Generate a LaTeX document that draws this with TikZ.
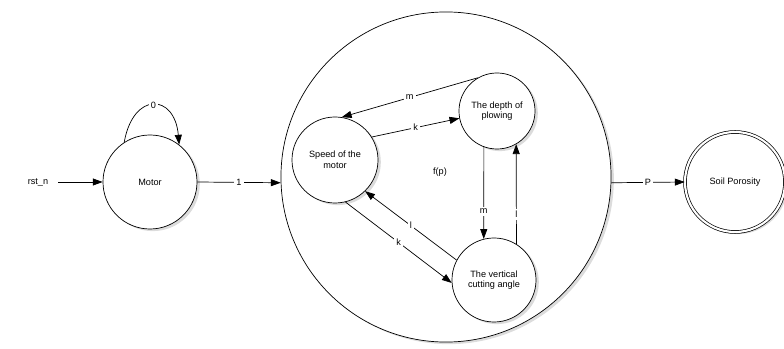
\documentclass[tikz,border=0pt]{standalone}
\usepackage{fontspec}
\setmainfont{Liberation Sans}
\usetikzlibrary{arrows.meta,shadows}

\begin{document}
\begin{tikzpicture}[
			x=0.025cm,y=0.025cm,
			font=\fontsize{6.5}{7.5}\selectfont,
			line width=0.5pt,
			state/.style={circle,draw,fill=white,align=center,
				drop shadow={shadow xshift=2pt,shadow yshift=-1.5pt,fill=gray!55}},
			trans/.style={-{Triangle[length=7pt,width=5pt]}},
			lbl/.style={fill=white,inner sep=1.5pt}
		]
		\useasboundingbox (0,0) rectangle (784,349);
		\node (rst) at (38,167) {rst\_n};
		\node[state,minimum size=2.35cm] (motor) at (150,167) {Motor};
		\node[state,minimum size=8.25cm] (big) at (446,172) {};
		\node[state,minimum size=2.15cm] (speed) at (335,189) {Speed of the\\motor};
		\node[state,minimum size=1.9cm] (depth) at (497,238) {The depth of\\plowing};
		\node[state,minimum size=2.1cm] (angle) at (494,69) {The vertical\\cutting angle};
		\node[state,minimum size=2.5cm,double,double distance=1.5pt] (soil) at (735,167) {Soil Porosity};
		\node (fp) at (440,177) {f(p)};

		\draw[trans] (rst.east) ++(5,0) -- (motor.west);
		\draw[trans] (motor.123) to[out=80,in=95,looseness=2.4] node[lbl] {0} (motor.52);
		\draw[trans] (motor.east) -- node[lbl] {1} (big.182);
		\draw[trans] (big.358) -- node[lbl] {P} (soil.west);

		\draw[trans] (depth.120) -- node[lbl] {m} (speed.81);
		\draw[trans] (speed.32) -- node[lbl] {k} (depth.191);
		\draw[trans] (depth.250) -- node[lbl,pos=0.7] {m} (angle.104);
		\draw[trans] (angle.58) -- node[lbl,pos=0.3] {l} (depth.300);
		\draw[trans] (angle.152) -- node[lbl] {l} (speed.314);
		\draw[trans] (speed.284) -- node[lbl] {k} (angle.184);
	\end{tikzpicture}
\end{document}
